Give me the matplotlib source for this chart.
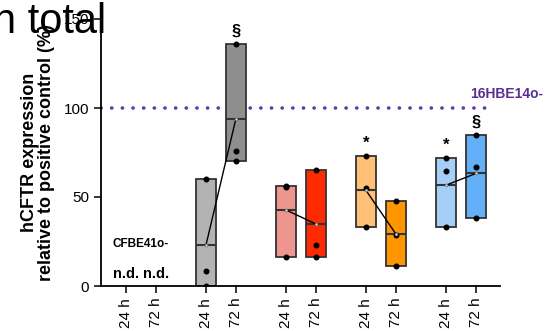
import numpy as np
import matplotlib
matplotlib.use("Agg")
import matplotlib.pyplot as plt

plt.rcParams['font.family'] = ['Liberation Sans', 'DejaVu Sans']

# time points per group, groups left to right
times = ["24 h", "72 h"]
n_groups = 5

# replicate values (% of positive control), None = not detected
vals_24h = [None,
            [60.1, 8.4, 0.0],
            [56.2, 55.5, 16.5],
            [73.2, 55.1, 33.1],
            [72.1, 64.6, 33.1]]
vals_72h = [None,
            [136.0, 76.0, 70.0],
            [65.2, 23.2, 16.1],
            [47.9, 28.5, 11.2],
            [84.8, 66.9, 38.0]]

colors_24h = [None, "#b3b3b3", "#ef9590", "#ffc078", "#a5cff6"]
colors_72h = [None, "#8e8e8e", "#ff2a00", "#ff9600", "#63aff8"]

# significance marks: (group, time index, symbol)
marks = [(1, 1, "§"), (3, 0, "*"), (4, 0, "*"), (4, 1, "§")]

ref_level = 100
ref_label = "16HBE14o-"
ctrl_label = "CFBE41o-"

fig = plt.figure(figsize=(5.45, 3.31), dpi=100)
ax = fig.add_axes([101/545, 45/331, 399/545, 267/331])

w = 0.65
xt, xl = [], []
for g in range(n_groups):
    x0 = g * 8 / 3
    xs = [x0, x0 + 1]
    xt += xs
    xl += times
    means = []
    for j, (vals, cols) in enumerate([(vals_24h, colors_24h), (vals_72h, colors_72h)]):
        v = vals[g]
        if v is None:
            ax.text(xs[j], 3, "n.d.", ha='center', va='bottom',
                    fontsize=10.5, fontweight='bold')
            continue
        v = np.array(v)
        ax.bar(xs[j], v.max() - v.min(), bottom=v.min(), width=w,
               color=cols[g], edgecolor='#333333', linewidth=1.3, zorder=2)
        m = v.mean()
        means.append(m)
        ax.hlines(m, xs[j] - w/2, xs[j] + w/2, color='#333333', lw=1.5, zorder=3)
        ax.plot([xs[j]] * len(v), v, 'o', ms=3.3, color='black', zorder=4)
    if len(means) == 2:
        ax.plot(xs, means, color='black', lw=1, zorder=5)
        ax.plot(xs, means, 'o', ms=2, mfc='#e6e6e6', mec='#666666',
                mew=0.5, zorder=6)

for g, j, s in marks:
    v = (vals_24h if j == 0 else vals_72h)[g]
    ax.text(g * 8 / 3 + j, max(v) + 3, s, ha='center', va='bottom',
            fontsize=12, fontweight='bold')

ax.plot([-0.83, 12.3], [ref_level, ref_level], color='#5b3fa3',
        lw=2.6, linestyle=(0, (0.05, 2.9)), dash_capstyle='round', zorder=1)
ax.text(13.9, 104, ref_label, ha='right', va='bottom', color='#5c2d91',
        fontsize=10, fontweight='bold', clip_on=False)
ax.text(-0.45, 20, ctrl_label, ha='left', va='bottom',
        fontsize=8.5, fontweight='bold')

ax.set_xlim(-0.83, 12.47)
ax.set_ylim(0, 150)
ax.set_yticks([0, 50, 100, 150])
ax.set_xticks(xt)
ax.set_xticklabels(xl, rotation=90)
ax.tick_params(axis='both', labelsize=11, width=1.1, length=5, direction='out')
ax.set_ylabel("hCFTR expression\nrelative to positive control (%)",
              fontsize=13, fontweight='bold', linespacing=1.0, labelpad=6)
for s in ['top', 'right']:
    ax.spines[s].set_visible(False)
for s in ['left', 'bottom']:
    ax.spines[s].set_linewidth(1.3)

fig.text(-7/545, 1 - 33/331, "n total", fontsize=30, va='baseline', ha='left')

fig.savefig("out.png", dpi=100)
